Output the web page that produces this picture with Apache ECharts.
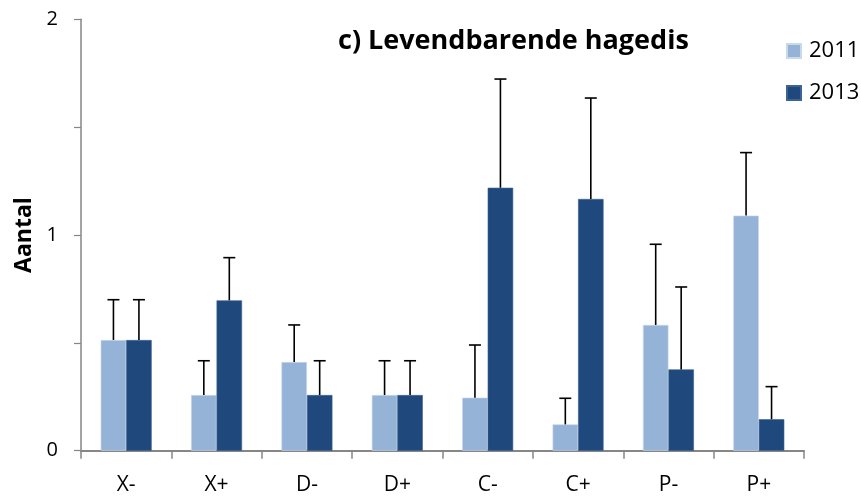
<!DOCTYPE html>
<html>
<head>
<meta charset="utf-8">
<script src="https://cdn.jsdelivr.net/npm/echarts@6/dist/echarts.min.js"></script>
<style>html,body{margin:0;padding:0;background:#fff}#c{width:861px;height:497px}</style>
</head>
<body>
<div id="c"></div>
<script>
var categories = ['X-', 'X+', 'D-', 'D+', 'C-', 'C+', 'P-', 'P+'];
var seriesNames = ['2011', '2013'];
var values2011 = [0.513, 0.258, 0.411, 0.258, 0.246, 0.122, 0.583, 1.090];
var values2013 = [0.513, 0.697, 0.258, 0.258, 1.219, 1.167, 0.377, 0.146];
var errTop2011 = [0.700, 0.417, 0.583, 0.417, 0.490, 0.243, 0.957, 1.382];
var errTop2013 = [0.700, 0.895, 0.417, 0.417, 1.723, 1.635, 0.759, 0.297];
var yTicks = [0, 1, 2];

var colors = ['#95B3D7', '#1F497D'];
var catGap = 0.436;

function errorSeries(name, tops, vals, side) {
  return {
    type: 'custom',
    name: name + ' err',
    z: 5,
    silent: true,
    data: tops.map(function (t, i) { return [i, vals[i], t]; }),
    renderItem: function (params, api) {
      var band = api.size([1, 0])[0];
      var barW = band * (1 - catGap) / 2;
      var base = api.coord([api.value(0), api.value(1)]);
      var top = api.coord([api.value(0), api.value(2)]);
      var x = base[0] + side * barW / 2;
      var cap = 6;
      var st = { stroke: '#000', lineWidth: 1.6 };
      return {
        type: 'group',
        children: [
          { type: 'line', shape: { x1: x, y1: base[1], x2: x, y2: top[1] }, style: st },
          { type: 'line', shape: { x1: x - cap, y1: top[1], x2: x + cap, y2: top[1] }, style: st }
        ]
      };
    },
    encode: { x: 0, y: [1, 2] }
  };
}

var chart = echarts.init(document.getElementById('c'));
chart.setOption({
  animation: false,
  textStyle: { fontFamily: 'Open Sans' },
  title: {
    text: 'c) Levendbarende hagedis',
    left: 333, top: 23,
    textStyle: { fontFamily: 'Open Sans', fontWeight: 'bold', fontSize: 27, color: '#000' }
  },
  legend: {
    data: seriesNames,
    orient: 'vertical',
    left: 786, top: 40,
    padding: 0,
    itemWidth: 14, itemHeight: 14, itemGap: 20,
    icon: 'rect',
    textStyle: { fontFamily: 'Open Sans', fontSize: 22, color: '#000', padding: [0, 0, 0, 3] }
  },
  grid: { left: 81, right: 57, top: 19.3, bottom: 46.3 },
  xAxis: {
    type: 'category',
    data: categories,
    axisLine: { lineStyle: { color: '#868686', width: 2 } },
    axisTick: { show: true, length: 8, lineStyle: { color: '#868686', width: 1.5 } },
    axisLabel: { color: '#000', fontSize: 21, margin: 24 }
  },
  yAxis: {
    type: 'value',
    min: 0, max: 2, interval: 0.5,
    name: 'Aantal',
    nameLocation: 'middle',
    nameRotate: 90,
    nameGap: 44,
    nameTextStyle: { fontFamily: 'Open Sans', fontWeight: 'bold', fontSize: 23, color: '#000' },
    splitLine: { show: false },
    axisLine: { show: true, lineStyle: { color: '#868686', width: 1.5 } },
    axisTick: { show: true, length: 7, lineStyle: { color: '#868686', width: 1.2 } },
    axisLabel: {
      color: '#000', fontSize: 20, margin: 23,
      formatter: function (v) { return yTicks.indexOf(v) >= 0 ? String(v) : ''; }
    }
  },
  series: [
    { name: seriesNames[0], type: 'bar', data: values2011, barGap: '0%', barCategoryGap: (catGap * 100) + '%',
      itemStyle: { color: colors[0], borderColor: '#c9d9ec', borderWidth: 0.6 } },
    { name: seriesNames[1], type: 'bar', data: values2013, barGap: '0%', barCategoryGap: (catGap * 100) + '%',
      itemStyle: { color: colors[1], borderColor: '#3d6394', borderWidth: 0.6 } },
    errorSeries('2011', errTop2011, values2011, -1),
    errorSeries('2013', errTop2013, values2013, 1)
  ]
});
</script>
</body>
</html>
